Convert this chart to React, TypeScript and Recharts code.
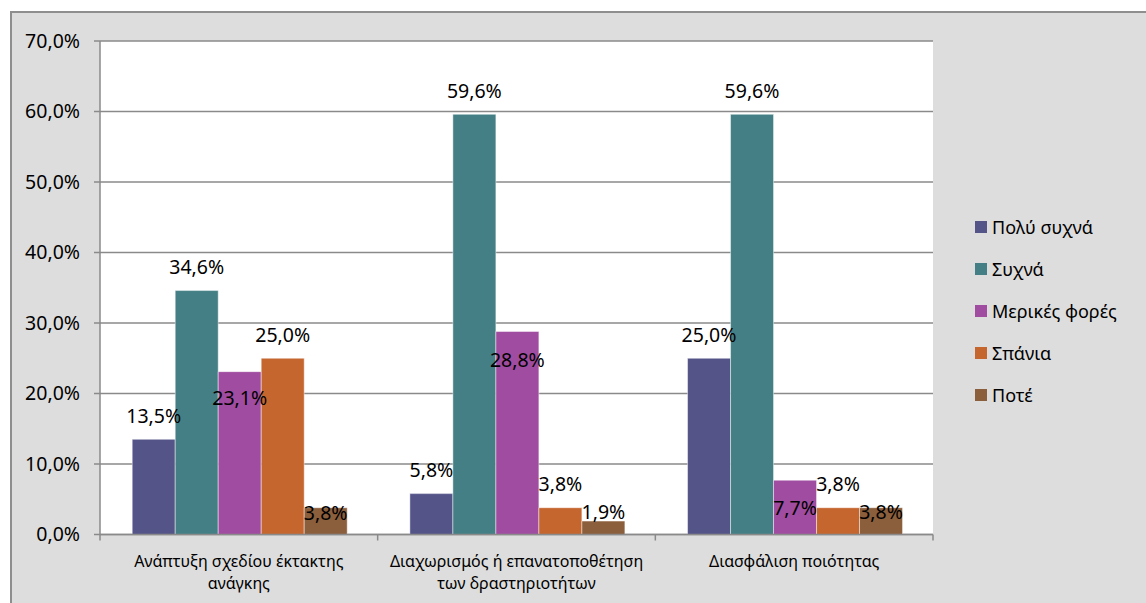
import React from 'react';
import { BarChart, Bar, XAxis, YAxis, CartesianGrid, LabelList } from 'recharts';

// Category labels (line breaks mark where the axis label wraps)
const categories = [
  'Ανάπτυξη σχεδίου έκτακτης\nανάγκης',
  'Διαχωρισμός ή επανατοποθέτηση\nτων δραστηριοτήτων',
  'Διασφάλιση ποιότητας',
];

const seriesNames = ['Πολύ συχνά', 'Συχνά', 'Μερικές φορές', 'Σπάνια', 'Ποτέ'];

// Percentages per category, one array per answer
const veryOften = [13.5, 5.8, 25.0];
const often = [34.6, 59.6, 59.6];
const sometimes = [23.1, 28.8, 7.7];
const rarely = [25.0, 3.8, 3.8];
const never = [3.8, 1.9, 3.8];

const yTicks = [0, 10, 20, 30, 40, 50, 60, 70];

const seriesValues = [veryOften, often, sometimes, rarely, never];
const seriesKeys = ['s0', 's1', 's2', 's3', 's4'];
const colors = ['#545488', '#437f84', '#a04ca0', '#c5662e', '#8b5e3c'];

const data = categories.map((name, i) => {
  const row: Record<string, string | number> = { name };
  seriesKeys.forEach((k, s) => {
    row[k] = seriesValues[s][i];
  });
  return row;
});

// Layout
const W = 1146;
const H = 603;
const PLOT_LEFT = 100;
const PLOT_RIGHT = 933;
const PLOT_TOP = 41;
const BAND = (PLOT_RIGHT - PLOT_LEFT) / categories.length;
const FONT = '"Noto Sans", sans-serif';
const TEXT_SIZE = 19.5;
const AXIS_GRAY = '#8a8a8a';

// Vertical nudges of value labels, relative to the default spot above each bar
const LABEL_DY: Record<string, number[]> = {
  s2: [50, 52, 51],
  s4: [29, 14, 28],
};

const fmt = (v: number) => v.toFixed(1).replace('.', ',') + '%';

const makeLabel = (key: string) => (props: any) => {
  const { x, y, width, value, index } = props;
  const nudge = (LABEL_DY[key] && LABEL_DY[key][index]) || 0;
  return (
    <text
      x={Number(x) + Number(width) / 2}
      y={Number(y) - 24 + nudge}
      textAnchor="middle"
      dominantBaseline="central"
      fontFamily={FONT}
      fontSize={TEXT_SIZE}
      fill="#000"
    >
      {fmt(Number(value))}
    </text>
  );
};

const CategoryTick = (props: any) => {
  const { x, y, payload, index } = props;
  const lines = String(payload.value).split('\n');
  const marks = [x - BAND / 2];
  if (index === categories.length - 1) marks.push(x + BAND / 2);
  return (
    <g>
      {marks.map((mx, i) => (
        <line key={i} x1={mx} x2={mx} y1={y} y2={y + 6} stroke={AXIS_GRAY} strokeWidth={1.5} />
      ))}
      {lines.map((ln, i) => (
        <text
          key={'t' + i}
          x={x}
          y={y + 26 + i * 22}
          textAnchor="middle"
          dominantBaseline="central"
          fontFamily={FONT}
          fontSize={16}
          fill="#000"
        >
          {ln}
        </text>
      ))}
    </g>
  );
};

const LegendBox = () => (
  <div style={{ position: 'absolute', left: 975, top: 206, fontFamily: FONT, fontSize: 18, color: '#000' }}>
    {seriesNames.map((n, i) => (
      <div key={n} style={{ display: 'flex', alignItems: 'center', height: 42 }}>
        <span style={{ width: 12, height: 12, background: colors[i], display: 'inline-block', marginRight: 5 }} />
        <span>{n}</span>
      </div>
    ))}
  </div>
);

export default function App() {
  return (
    <div style={{ position: 'absolute', left: 0, top: 0, width: W, height: H, overflow: 'hidden' }}>
      <div
        style={{
          position: 'absolute',
          left: 10,
          top: 11,
          width: W,
          height: H,
          background: '#dddddd',
          border: '2px solid #8e8e8e',
        }}
      />
      <div style={{ position: 'absolute', left: 0, top: 0 }}>
        <BarChart
          width={W}
          height={H}
          data={data}
          margin={{ top: PLOT_TOP, right: W - PLOT_RIGHT, bottom: 8.5, left: 0 }}
          barCategoryGap="11.6%"
          barGap={0}
        >
          <CartesianGrid vertical={false} fill="#ffffff" stroke={AXIS_GRAY} strokeWidth={1.5} />
          <XAxis
            dataKey="name"
            height={60}
            axisLine={{ stroke: AXIS_GRAY, strokeWidth: 1.5 }}
            tickLine={false}
            tickSize={0}
            tickMargin={0}
            tick={<CategoryTick />}
            interval={0}
          />
          <YAxis
            width={PLOT_LEFT}
            domain={[0, 70]}
            ticks={yTicks}
            tickFormatter={(v: number) => fmt(v)}
            axisLine={{ stroke: AXIS_GRAY, strokeWidth: 1.5 }}
            tickLine={{ stroke: AXIS_GRAY, strokeWidth: 1.5 }}
            tickSize={6}
            tickMargin={14}
            tick={{ fill: '#000', fontSize: TEXT_SIZE, fontFamily: FONT }}
          />
          {seriesKeys.map((k, s) => (
            <Bar
              key={k}
              dataKey={k}
              name={seriesNames[s]}
              fill={colors[s]}
              stroke="rgba(255,255,255,0.45)"
              strokeWidth={1}
              isAnimationActive={false}
            >
              <LabelList dataKey={k} content={makeLabel(k)} />
            </Bar>
          ))}
        </BarChart>
      </div>
      <LegendBox />
    </div>
  );
}
